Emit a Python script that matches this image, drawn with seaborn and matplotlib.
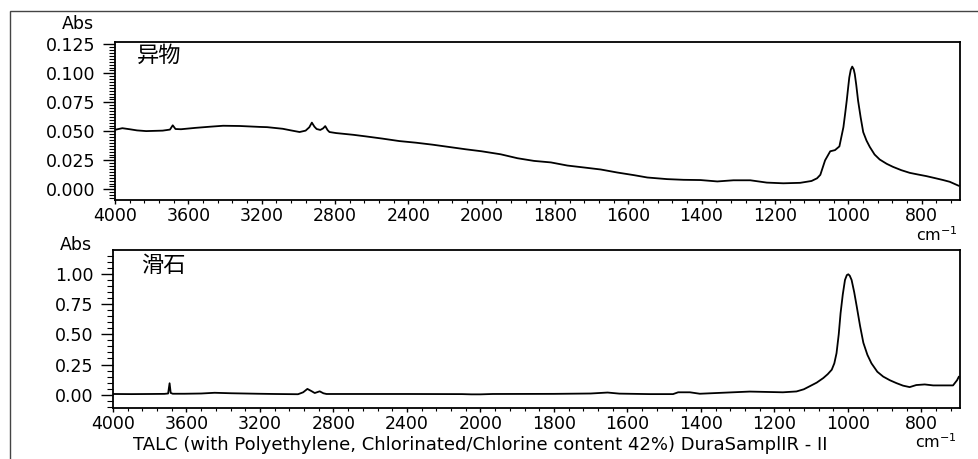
import numpy as np
import pandas as pd
import matplotlib
matplotlib.use('Agg')
import matplotlib.pyplot as plt
import matplotlib.ticker as mticker
from matplotlib.patches import Rectangle
import seaborn as sns

# spectrum of the foreign matter (异物)
top_wn = [4000, 3960, 3920, 3880, 3830, 3740, 3700, 3685, 3670, 3640, 3560, 3480,
          3410, 3320, 3210, 3170, 3085, 3040, 2993, 2960, 2940, 2926, 2912, 2900,
          2880, 2865, 2853, 2840, 2830, 2794, 2700, 2630, 2540, 2449, 2358, 2268,
          2177, 2086, 2000, 1948, 1902, 1857, 1811, 1766, 1720, 1675, 1630, 1584,
          1548, 1494, 1449, 1403, 1357, 1313, 1267, 1222, 1177, 1131, 1100, 1085,
          1076, 1063, 1049, 1036, 1024, 1013, 1008, 1004, 1000, 997, 993, 989,
          985, 982, 978, 973, 966, 959, 950, 941, 928, 914, 895, 878,
          855, 832, 810, 787, 765, 741, 723, 698]
top_abs = [0.0513, 0.0527, 0.0518, 0.0508, 0.0502, 0.0506, 0.0515, 0.0552, 0.0520, 0.0518, 0.0530, 0.0540,
           0.0548, 0.0546, 0.0538, 0.0536, 0.0522, 0.0508, 0.0494, 0.0506, 0.0535, 0.0575, 0.0540, 0.0520,
           0.0512, 0.0525, 0.0545, 0.0510, 0.0494, 0.0485, 0.0470, 0.0456, 0.0437, 0.0416, 0.0402, 0.0385,
           0.0365, 0.0345, 0.0328, 0.0302, 0.0268, 0.0245, 0.0232, 0.0205, 0.0188, 0.0171, 0.0145, 0.0122,
           0.0102, 0.0088, 0.0082, 0.0080, 0.0068, 0.0078, 0.0078, 0.0058, 0.0052, 0.0056, 0.0072, 0.0095,
           0.0125, 0.0250, 0.0328, 0.0338, 0.0370, 0.0536, 0.0660, 0.0764, 0.0880, 0.0964, 0.1030, 0.1058,
           0.1035, 0.0993, 0.0900, 0.0764, 0.0620, 0.0493, 0.0420, 0.0365, 0.0300, 0.0257, 0.0220, 0.0194,
           0.0165, 0.0142, 0.0128, 0.0114, 0.0098, 0.0080, 0.0065, 0.0030]

# reference spectrum of talc (滑石)
bot_wn = [4000, 3900, 3800, 3720, 3700, 3692, 3686, 3675, 3610, 3520, 3447, 3356,
          3211, 3120, 2993, 2965, 2942, 2920, 2902, 2875, 2855, 2838, 2700, 2400,
          2100, 2050, 2000, 1967, 1800, 1700, 1654, 1622, 1539, 1476, 1462, 1430,
          1403, 1313, 1267, 1177, 1140, 1120, 1104, 1085, 1067, 1055, 1044, 1037,
          1031, 1025, 1020, 1014, 1008, 1003, 999, 995, 990, 983, 976, 967,
          958, 947, 936, 920, 904, 886, 868, 850, 832, 814, 791, 768,
          714, 703, 698]
bot_abs = [0.006, 0.005, 0.006, 0.007, 0.010, 0.095, 0.015, 0.008, 0.008, 0.010, 0.016, 0.012,
           0.008, 0.006, 0.004, 0.020, 0.048, 0.030, 0.014, 0.028, 0.012, 0.006, 0.006, 0.006,
           0.005, 0.003, 0.003, 0.006, 0.007, 0.010, 0.018, 0.009, 0.005, 0.005, 0.020, 0.020,
           0.008, 0.020, 0.026, 0.020, 0.027, 0.045, 0.070, 0.100, 0.138, 0.170, 0.207, 0.260,
           0.344, 0.500, 0.675, 0.830, 0.950, 0.990, 0.997, 0.985, 0.950, 0.850, 0.730, 0.570,
           0.430, 0.330, 0.260, 0.190, 0.150, 0.120, 0.096, 0.075, 0.063, 0.080, 0.085, 0.077,
           0.077, 0.120, 0.150]

x_major = [4000, 3600, 3200, 2800, 2400, 2000, 1800, 1600, 1400, 1200, 1000, 800]
top_yticks = [0.000, 0.025, 0.050, 0.075, 0.100, 0.125]
bot_yticks = [0.00, 0.25, 0.50, 0.75, 1.00]
caption = 'TALC (with Polyethylene, Chlorinated/Chlorine content 42%) DuraSamplIR - II'

top_df = pd.DataFrame({'wn': top_wn, 'abs': top_abs})
bot_df = pd.DataFrame({'wn': bot_wn, 'abs': bot_abs})


# the spectrometer axis: 4000-2000 is drawn at half the scale of 2000-700
def fwd(x):
    x = np.asarray(x, dtype=float)
    return np.where(x > 2000, 2000 + (x - 2000) / 2, x)


def inv(u):
    u = np.asarray(u, dtype=float)
    return np.where(u > 2000, 2000 + (u - 2000) * 2, u)


sns.set_theme(style='ticks')
plt.rcParams['font.family'] = ['DejaVu Sans', 'Noto Sans CJK SC']
plt.rcParams['text.color'] = 'black'
plt.rcParams['xtick.color'] = 'black'
plt.rcParams['ytick.color'] = 'black'

W, H = 979, 459
fig = plt.figure(figsize=(W / 100, H / 100), dpi=100)
ax1 = fig.add_axes([115 / W, 1 - 200 / H, 845 / W, 158 / H])
ax2 = fig.add_axes([113 / W, 1 - 408 / H, 847 / W, 158 / H])

x_minor = list(np.arange(3920, 2000, -80)) + list(np.arange(1960, 700, -40))

for ax, df, yt, ylim, ymin_step, fmt in [
        (ax1, top_df, top_yticks, (-0.0092, 0.127), 0.0025, '%.3f'),
        (ax2, bot_df, bot_yticks, (-0.11, 1.198), 0.05, '%.2f')]:
    sns.lineplot(data=df, x='wn', y='abs', ax=ax, color='black', linewidth=1.3,
                 estimator=None)
    ax.set_xscale('function', functions=(fwd, inv))
    ax.set_xlim(4000, 695)
    ax.set_ylim(*ylim)
    ax.xaxis.set_major_locator(mticker.FixedLocator(x_major))
    ax.xaxis.set_minor_locator(mticker.FixedLocator(x_minor))
    ax.xaxis.set_major_formatter(mticker.FormatStrFormatter('%d'))
    ax.xaxis.set_minor_formatter(mticker.NullFormatter())
    ax.yaxis.set_major_locator(mticker.FixedLocator(yt))
    ax.yaxis.set_minor_locator(mticker.MultipleLocator(ymin_step))
    ax.yaxis.set_major_formatter(mticker.FormatStrFormatter(fmt))
    ax.set_xlabel('')
    ax.set_ylabel('')
    ax.tick_params(axis='y', which='major', length=9, width=1, pad=5,
                   labelsize=12.5, colors='black')
    ax.tick_params(axis='y', which='minor', length=4, width=0.8, color='black')
    ax.tick_params(axis='x', which='major', length=3, width=1, pad=2,
                   labelsize=12.5, colors='black')
    ax.tick_params(axis='x', which='minor', length=1.8, width=0.8, color='black')
    for s in ax.spines.values():
        s.set_color('black')
        s.set_linewidth(1.3)

fig.text(78 / W, 1 - 24 / H, 'Abs', ha='center', va='center', fontsize=12.5)
fig.text(76 / W, 1 - 245 / H, 'Abs', ha='center', va='center', fontsize=12.5)
ax1.text(0.026, 0.918, '异物', transform=ax1.transAxes, ha='left', va='center',
         fontsize=16, family=['Noto Sans CJK SC', 'DejaVu Sans'])
ax2.text(0.033, 0.905, '滑石', transform=ax2.transAxes, ha='left', va='center',
         fontsize=16, family=['Noto Sans CJK SC', 'DejaVu Sans'])
fig.text(958 / W, 1 - 235 / H, 'cm$^{-1}$', ha='right', va='center', fontsize=11.5)
fig.text(957 / W, 1 - 442 / H, 'cm$^{-1}$', ha='right', va='center', fontsize=11.5)
fig.text(480 / W, 1 - 445 / H, caption, ha='center', va='center', fontsize=13)

# outer frame of the report page
fig.patches.append(Rectangle((10 / W, -0.1), 1.2, 1.1 - 11 / H,
                             transform=fig.transFigure, fill=False,
                             edgecolor='#444444', linewidth=1.0))

fig.savefig('out.png', dpi=100)
